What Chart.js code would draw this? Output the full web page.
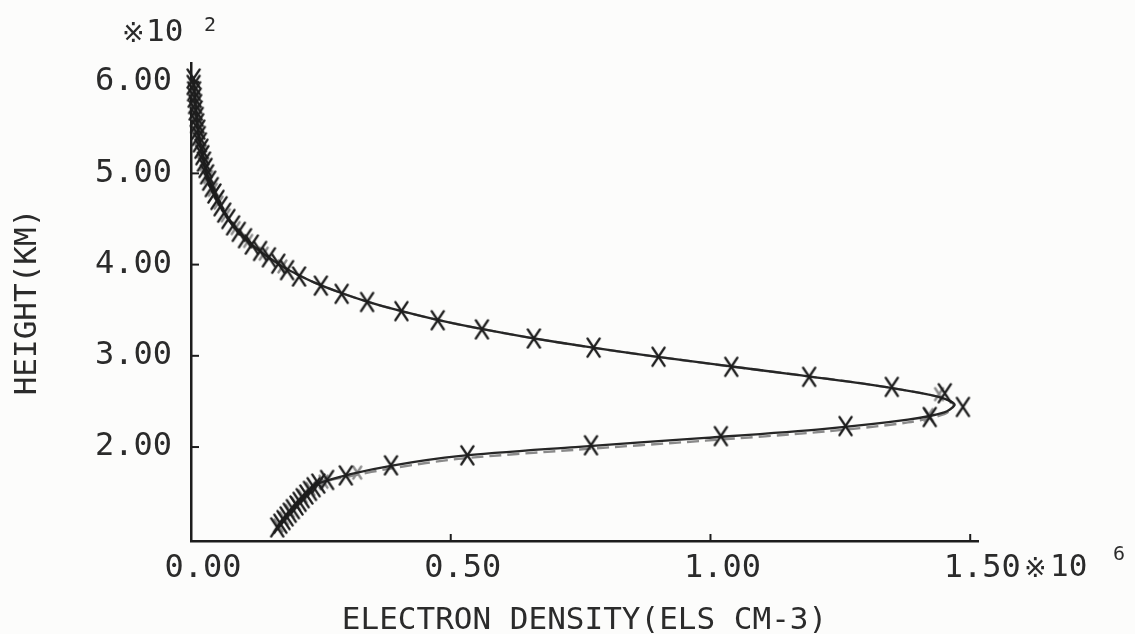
<!DOCTYPE html>
<html>
<head>
<meta charset="utf-8">
<title>Electron density profile</title>
<script src="https://cdn.jsdelivr.net/npm/chart.js@4.4.1/dist/chart.umd.min.js"></script>
<style>
    html, body { margin: 0; padding: 0; background: #fcfcfb; }
    #wrap { width: 1135px; height: 634px; }
</style>
</head>
<body>
<div id="wrap"><canvas id="profileChart" width="1135" height="634"></canvas></div>
<script>
// ----------------------------------------------------------------------------
// Electron density profile: height in 10^2 km, density in 10^6 els/cm^3
// ----------------------------------------------------------------------------

// fitted profile (solid)
const profileHeight = [1.12, 1.20, 1.30, 1.40, 1.50, 1.60, 1.70, 1.80, 1.90, 2.00,
    2.10, 2.20, 2.30, 2.38, 2.46, 2.50, 2.55, 2.60, 2.70, 2.80, 2.90, 3.00,
    3.10, 3.20, 3.30, 3.40, 3.50, 3.60, 3.70, 3.80, 3.90, 4.00, 4.20, 4.40,
    4.60, 4.80, 5.00, 5.20, 5.40, 5.60, 5.80, 6.05];
const profileDensity = [0.166, 0.176, 0.190, 0.205, 0.222, 0.245, 0.305, 0.390, 0.515, 0.740,
    0.990, 1.220, 1.380, 1.450, 1.470, 1.463, 1.439, 1.398, 1.288, 1.155, 1.017, 0.884,
    0.761, 0.651, 0.554, 0.470, 0.398, 0.336, 0.284, 0.239, 0.202, 0.170, 0.121, 0.085,
    0.061, 0.043, 0.030, 0.022, 0.015, 0.011, 0.008, 0.005];

// model profile (dashed) - sits a little lower on the bottomside
const modelHeight = [1.12, 1.20, 1.30, 1.40, 1.50, 1.60, 1.68, 1.77, 1.87, 1.97,
    2.07, 2.17, 2.27, 2.36, 2.45, 2.50, 2.55, 2.60, 2.70, 2.80, 2.90, 3.00,
    3.10, 3.20, 3.30, 3.40, 3.50, 3.60, 3.70, 3.80, 3.90, 4.00, 4.20, 4.40,
    4.60, 4.80, 5.00, 5.20, 5.40, 5.60, 5.80, 6.05];
const modelDensity = [0.166, 0.176, 0.190, 0.205, 0.222, 0.245, 0.305, 0.390, 0.515, 0.740,
    0.990, 1.220, 1.380, 1.450, 1.468, 1.463, 1.439, 1.398, 1.288, 1.155, 1.017, 0.884,
    0.761, 0.651, 0.554, 0.470, 0.398, 0.336, 0.284, 0.239, 0.202, 0.170, 0.121, 0.085,
    0.061, 0.043, 0.030, 0.022, 0.015, 0.011, 0.008, 0.005];

// measured points (black crosses)
const sampleHeight = [1.12, 1.16, 1.20, 1.24, 1.28, 1.32, 1.36, 1.40, 1.44, 1.48,
    1.52, 1.56, 1.60, 1.64, 1.69, 1.80, 1.91, 2.02, 2.12, 2.23, 2.33, 2.44,
    2.59, 2.66, 2.77, 2.88, 2.99, 3.09, 3.19, 3.29, 3.39, 3.49, 3.59, 3.68,
    3.77, 3.87, 3.94, 4.01, 4.08, 4.15, 4.22, 4.29, 4.36, 4.43, 4.50, 4.57,
    4.64, 4.71, 4.78, 4.85, 4.92, 4.99, 5.06, 5.13, 5.20, 5.27, 5.34, 5.41,
    5.48, 5.55, 5.62, 5.69, 5.76, 5.83, 5.90, 5.97, 6.04];
const sampleDensity = [0.166, 0.172, 0.178, 0.184, 0.190, 0.196, 0.203, 0.209, 0.215, 0.222,
    0.229, 0.236, 0.245, 0.262, 0.298, 0.385, 0.532, 0.770, 1.020, 1.260, 1.422, 1.486,
    1.451, 1.349, 1.190, 1.040, 0.900, 0.775, 0.660, 0.560, 0.475, 0.405, 0.339, 0.290,
    0.250, 0.208, 0.185, 0.168, 0.150, 0.133, 0.117, 0.104, 0.092, 0.081, 0.072, 0.064,
    0.057, 0.051, 0.045, 0.040, 0.035, 0.031, 0.028, 0.025, 0.022, 0.020, 0.017, 0.015,
    0.014, 0.012, 0.011, 0.009, 0.008, 0.007, 0.006, 0.005, 0.005];

// model points (grey crosses)
const modelPtHeight = [1.14, 1.22, 1.30, 1.38, 1.46, 1.54, 1.62, 1.72, 2.35, 2.58,
    3.98, 4.12, 4.26, 4.40, 4.54, 4.68, 4.82, 4.96, 5.10, 5.24, 5.38, 5.52,
    5.66, 5.80, 5.94];
const modelPtDensity = [0.168, 0.179, 0.190, 0.202, 0.215, 0.230, 0.255, 0.320, 1.420, 1.440,
    0.176, 0.140, 0.110, 0.086, 0.067, 0.053, 0.042, 0.033, 0.026, 0.021, 0.016, 0.013,
    0.010, 0.008, 0.006];

// axes
const xTickValues = [0, 0.5, 1.0, 1.5];
const xTickLabels = ['0.00', '0.50', '1.00', '1.50'];
const yTickValues = [2, 3, 4, 5, 6];
const yTickLabels = ['2.00', '3.00', '4.00', '5.00', '6.00'];
const xTitle = 'ELECTRON DENSITY(ELS CM-3)';
const yTitle = 'HEIGHT(KM)';
const xExponent = '6';
const yExponent = '2';

const INK = '#1d1d1d';
const TEXT = '#2b2b2b';
const MONO = "'DejaVu Sans Mono', 'Liberation Mono', monospace";
const MARK = "'DejaVu Sans', 'Noto Sans CJK JP', sans-serif";

const toPoints = (hs, ds) => hs.map((h, i) => ({ x: ds[i], y: h }));

// plotter style cross, a bit taller than wide
function makeCross(w, h, color, lw) {
    const c = document.createElement('canvas');
    c.width = w;
    c.height = h;
    const g = c.getContext('2d');
    g.strokeStyle = color;
    g.lineWidth = lw;
    g.lineCap = 'round';
    g.beginPath();
    g.moveTo(lw, lw);
    g.lineTo(w - lw, h - lw);
    g.moveTo(w - lw, lw);
    g.lineTo(lw, h - lw);
    g.stroke();
    return c;
}

const blackCross = makeCross(17, 23, INK, 2.4);
const greyCross = makeCross(13, 17, '#8d8d8d', 2.6);

// inward tick marks and the x10^n multipliers
const axisDecor = {
    id: 'axisDecor',
    afterDraw(chart) {
        const { ctx, chartArea, scales } = chart;
        ctx.save();
        ctx.strokeStyle = INK;
        ctx.lineWidth = 2;
        xTickValues.forEach(v => {
            if (v === 0) return;
            const px = scales.x.getPixelForValue(v);
            ctx.beginPath();
            ctx.moveTo(px, chartArea.bottom);
            ctx.lineTo(px, chartArea.bottom - 7);
            ctx.stroke();
        });
        yTickValues.forEach(v => {
            const py = scales.y.getPixelForValue(v);
            ctx.beginPath();
            ctx.moveTo(chartArea.left, py);
            ctx.lineTo(chartArea.left + 8, py);
            ctx.stroke();
        });

        ctx.fillStyle = TEXT;
        ctx.textBaseline = 'middle';
        ctx.textAlign = 'left';
        // y multiplier above the axis
        ctx.font = '27px ' + MARK;
        ctx.fillText('\u203B', 122, 35);
        ctx.font = '31px ' + MONO;
        ctx.fillText('10', 146, 33);
        ctx.font = '20px ' + MONO;
        ctx.fillText(yExponent, 204, 26);
        // x multiplier after the last tick label
        ctx.font = '27px ' + MARK;
        ctx.fillText('\u203B', 1024, 570);
        ctx.font = '31px ' + MONO;
        ctx.fillText('10', 1050, 568);
        ctx.font = '20px ' + MONO;
        ctx.fillText(xExponent, 1113, 555);
        ctx.restore();
    }
};

const chart = new Chart(document.getElementById('profileChart'), {
    type: 'scatter',
    data: {
        datasets: [{
            label: 'Measured',
            data: toPoints(sampleHeight, sampleDensity),
            showLine: false,
            pointStyle: blackCross,
            pointRadius: 9,
            pointHoverRadius: 9,
            clip: false,
            order: 0
        }, {
            label: 'Profile',
            data: toPoints(profileHeight, profileDensity),
            showLine: true,
            borderColor: '#262626',
            borderWidth: 2.3,
            pointRadius: 0,
            tension: 0.3,
            clip: false,
            order: 1
        }, {
            label: 'Model points',
            data: toPoints(modelPtHeight, modelPtDensity),
            showLine: false,
            pointStyle: greyCross,
            pointRadius: 7,
            clip: false,
            order: 2
        }, {
            label: 'Model',
            data: toPoints(modelHeight, modelDensity),
            showLine: true,
            borderColor: '#8a8a8a',
            borderWidth: 2.4,
            borderDash: [12, 6],
            pointRadius: 0,
            tension: 0.3,
            clip: false,
            order: 3
        }]
    },
    options: {
        responsive: false,
        animation: false,
        devicePixelRatio: 1,
        layout: {
            padding: { left: 0, top: 63, right: 157, bottom: 0 }
        },
        plugins: {
            legend: { display: false },
            tooltip: { enabled: false }
        },
        scales: {
            x: {
                type: 'linear',
                min: 0,
                max: 1.515,
                afterBuildTicks: (scale) => {
                    scale.ticks = xTickValues.map(v => ({ value: v }));
                },
                afterFit: (scale) => {
                    scale.height = 93;
                },
                grid: { display: true, drawOnChartArea: false, drawTicks: false },
                border: { display: true, color: INK, width: 2.5 },
                ticks: {
                    color: TEXT,
                    padding: 8,
                    labelOffset: 12,
                    maxRotation: 0,
                    font: { family: MONO, size: 32 },
                    callback: (value) => xTickLabels[xTickValues.indexOf(value)]
                },
                title: {
                    display: true,
                    text: xTitle,
                    color: TEXT,
                    padding: 0,
                    font: { family: MONO, size: 31, lineHeight: 0.84 }
                }
            },
            y: {
                type: 'linear',
                min: 0.97,
                max: 6.21,
                afterBuildTicks: (scale) => {
                    scale.ticks = yTickValues.map(v => ({ value: v }));
                },
                afterFit: (scale) => {
                    scale.width = 191;
                },
                grid: { display: true, drawOnChartArea: false, drawTicks: false },
                border: { display: true, color: INK, width: 2.5 },
                ticks: {
                    color: TEXT,
                    padding: 19,
                    font: { family: MONO, size: 32 },
                    callback: (value) => yTickLabels[yTickValues.indexOf(value)]
                },
                title: {
                    display: true,
                    text: yTitle,
                    color: TEXT,
                    padding: { top: 9, bottom: 0 },
                    font: { family: MONO, size: 31, lineHeight: 1.2 }
                }
            }
        }
    },
    plugins: [axisDecor]
});
</script>
</body>
</html>
